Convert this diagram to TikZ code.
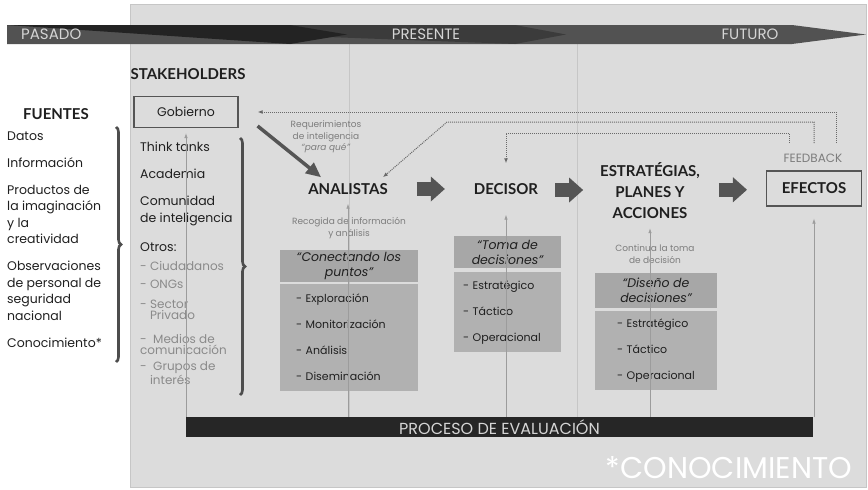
\documentclass[tikz,border=0pt]{standalone}
\usepackage{fontspec}
\setmainfont{Poppins}
\newfontfamily\headfont{Lato}
\usetikzlibrary{arrows.meta,calc,positioning,decorations.pathreplacing}
\definecolor{panel}{HTML}{DCDCDC}
\definecolor{panelline}{HTML}{C6C6C6}
\definecolor{boxdark}{HTML}{A7A7A7}
\definecolor{boxlight}{HTML}{B1B1B1}
\definecolor{ink}{HTML}{1F1F1F}
\definecolor{soft}{HTML}{7D7D7D}
\definecolor{sub}{HTML}{8A8A8A}
\definecolor{bandA}{HTML}{232323}
\definecolor{bandB}{HTML}{3B3B3B}
\definecolor{bandC}{HTML}{525252}
\definecolor{bandtext}{HTML}{D5D5D5}
\definecolor{evalfill}{HTML}{262626}
\definecolor{arrowgrey}{HTML}{555555}
\definecolor{bracegrey}{HTML}{4D4D4D}
\definecolor{lineg}{HTML}{9C9C9C}
\definecolor{dotg}{HTML}{6A6A6A}
\tikzset{
  head/.style={font=\headfont\bfseries\fontsize{15}{21}\selectfont,text=ink,inner sep=0pt,align=center},
  plain/.style={font=\fontsize{12.5}{16.5}\selectfont,text=ink,inner sep=0pt,align=left,anchor=base west},
  minor/.style={font=\fontsize{12}{10.5}\selectfont,text=sub,inner sep=0pt,align=left,anchor=base west},
  note/.style={font=\fontsize{9}{11.5}\selectfont,text=soft,inner sep=0pt,align=center},
  titlebox/.style={fill=boxdark,inner sep=0pt,align=center,text=ink,font=\itshape\fontsize{12.5}{15}\selectfont},
  listbox/.style={fill=boxlight,anchor=north,inner ysep=0pt,align=left,text=ink,font=\fontsize{11}{26}\selectfont},
  feed/.style={densely dotted,line width=1pt,draw=dotg,-{Latex[length=5pt,width=4pt]}},
  uparrow/.style={draw=lineg,line width=0.7pt,-{Latex[length=5pt,width=3.5pt]}},
  blockarrow/.style={draw=arrowgrey,line width=14pt,-{Triangle[length=14pt,width=25pt,line width=0pt]}},
  bigbrace/.style={draw=bracegrey,line width=2.6pt,decorate,decoration={brace,amplitude=5pt}},
  bandlbl/.style={text=bandtext,font=\fontsize{15}{15}\selectfont,inner sep=0pt},
}
\begin{document}
\begin{tikzpicture}[x=1pt,y=-1pt,>=latex]
\useasboundingbox (0,0) rectangle (868,490);
% fondo
\filldraw[fill=panel,draw=panelline] (130,4) rectangle (866,487);
\draw[panelline,line width=0.6pt] (349,44) -- (349,417);
\draw[panelline,line width=0.6pt] (577,44) -- (577,417);
% linea de tiempo
\fill[bandC] (7,25) -- (792,25) -- (866,34.5) -- (792,44) -- (7,44) -- cycle;
\fill[bandB] (7,25) -- (515,25) -- (566,34.5) -- (515,44) -- cycle;
\fill[bandA] (7,25) -- (290,25) -- (347,34.5) -- (290,44) -- cycle;
\node[bandlbl,anchor=west] (pas) at (21,34.5) {PASADO};
\node[bandlbl] (pre) at (426,34.5) {PRESENTE};
\node[bandlbl] (fut) at (750,34.5) {FUTURO};
% fuentes (base = ultima linea)
\node[head] (fue) at (56,114) {FUENTES};
\node[plain] (fuelist) at (7,347) {Datos\\[10.5pt]Información\\[10.5pt]Productos de\\la imaginación\\y la\\creatividad\\[10.5pt]Observaciones\\de personal de\\seguridad\\nacional\\[10.5pt]Conocimiento*};
\draw[bigbrace] (116,127) -- (116,362);
% stakeholders
\node[head] (stk) at (188,74) {STAKEHOLDERS};
\node[draw=arrowgrey,line width=1.2pt,minimum width=104,minimum height=31,inner sep=0pt,font=\fontsize{12.5}{15}\selectfont,text=ink] (gob) at (186,112) {Gobierno};
\node[plain] (stklist) at (140,251) {Think tanks\\[10.5pt]Academia\\[10.5pt]Comunidad\\de inteligencia\\[12.5pt]Otros:};
\node[minor] (ciu) at (140,270) {-~Ciudadanos};
\node[minor] (ong) at (140,288) {-~ONGs};
\node[minor] (sec) at (140,319) {-~Sector\\\hphantom{-~}Privado};
\node[minor] (med) at (140,354) {-~~Medios de\\comunicación};
\node[minor] (gru) at (140,384) {-~~Grupos de\\\hphantom{-~}interés};
\draw[bigbrace] (240,138) -- (240,395);
% etapas
\node[head] (ana) at (348,189) {ANALISTAS};
\node[head] (dec) at (506,189) {DECISOR};
\node[head] (est) at (650,191) {ESTRATÉGIAS,\\PLANES Y\\ACCIONES};
\node[head,draw=arrowgrey,line width=1.2pt,minimum width=95,minimum height=35] (efe) at (814,188.5) {EFECTOS};
\node[text=soft,font=\fontsize{12}{12}\selectfont,inner sep=0pt] (fb) at (813,158) {FEEDBACK};
\draw[blockarrow] ($(ana.east)!0.5!(dec.west)+(-14,0)$) -- ++(28,0);
\draw[blockarrow] ($(dec.east)!0.5!(est.west)+(-14,0)$) -- ++(28,0);
\draw[blockarrow] ($(est.east)!0.5!(efe.west)+(-14,0)$) -- ++(28,0);
% cajas
\node[note] (req) at (326,137) {Requerimientos\\de inteligencia\\\textit{``para qué''}};
\draw[arrowgrey,line width=3.5pt,-{Triangle[length=15pt,width=13pt]}] ([xshift=19pt,yshift=-14pt]gob.east) -- ([xshift=13pt,yshift=6pt]ana.north west);
\node[note] (rec) at (349,228) {Recogida de información\\y análisis};
\node[titlebox,minimum width=138,minimum height=32] (anaT) at (349,266) {``Conectando los\\puntos''};
\node[listbox,minimum width=138,minimum height=107,inner xsep=16pt,text width=106] (anaL) at (349,283.5) {-~Exploración\\-~Monitorización\\-~Análisis\\-~Diseminación};
\node[titlebox,minimum width=107,minimum height=32] (decT) at (507.5,252) {``Toma de\\decisiones''};
\node[listbox,minimum width=107,minimum height=80,inner xsep=9pt,text width=89] (decL) at (507.5,272) {-~Estratégico\\-~Táctico\\-~Operacional};
\node[note] (cont) at (655,254) {Continua la toma\\de decisión};
\node[titlebox,minimum width=122,minimum height=35] (estT) at (656,290) {``Diseño de\\decisiones''};
\node[listbox,minimum width=122,minimum height=79,inner xsep=22pt,text width=78] (estL) at (656,311) {-~Estratégico\\-~Táctico\\-~Operacional};
% evaluacion
\node[fill=evalfill,minimum width=627,minimum height=20,inner sep=0pt,text=bandtext,font=\fontsize{16}{16}\selectfont] (eval) at (499.5,427) {PROCESO DE EVALUACIÓN};
\draw[uparrow,shorten >=5pt] (eval.north -| gob) -- (gob.south);
\draw[uparrow,shorten >=9pt] (eval.north -| ana) -- (ana.south);
\draw[uparrow,shorten >=20pt] (eval.north -| dec) -- (dec.south);
\draw[uparrow,shorten >=9pt] (eval.north -| est) -- (est.south);
\draw[uparrow,shorten >=12pt] (eval.north -| efe) -- (efe.south);
% feedback
\coordinate (fb1) at (836,143);
\coordinate (fb2) at (814,143);
\coordinate (fb3) at (789,143);
\draw[feed,shorten >=19pt] (fb1) |- (gob);
\draw[feed] (fb2) |- (447,122) -- ([xshift=-5pt,yshift=6pt]ana.north east);
\draw[feed,shorten >=20pt] (fb3) |- (dec.north |- 0,133) -- (dec.north);
\node[text=white,font=\fontsize{30}{30}\selectfont,inner sep=0pt] (kno) at (729,468) {*CONOCIMIENTO};
\end{tikzpicture}
\end{document}
